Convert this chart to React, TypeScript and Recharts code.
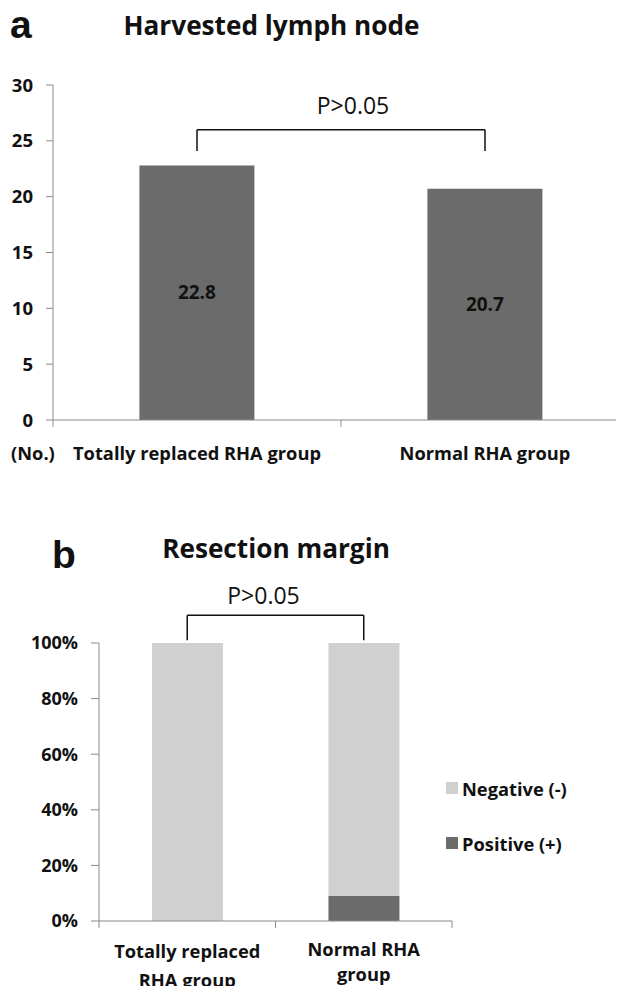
import React from "react";
import { BarChart, Bar, XAxis, YAxis, LabelList, ReferenceLine, Legend } from "recharts";

// ---------- Data: chart a ----------
const groupsA = ["Totally replaced RHA group", "Normal RHA group"];
const lymphNodes = [22.8, 20.7];
const yTicksA = [0, 5, 10, 15, 20, 25, 30];
const unitLabelA = "(No.)";
const titleA = "Harvested lymph node";

// ---------- Data: chart b ----------
const groupsB = ["Totally replaced RHA group", "Normal RHA group"];
const groupLinesB = [
  ["Totally replaced", "RHA group"],
  ["Normal RHA", "group"],
];
const negativePct = [100, 91];
const positivePct = [0, 9];
const yTicksB = [0, 20, 40, 60, 80, 100];
const seriesNamesB = ["Negative (-)", "Positive (+)"];
const titleB = "Resection margin";

const pLabel = "P>0.05";

// ---------- Styling / layout ----------
const FONT = "'Open Sans', 'Noto Sans', sans-serif";
const LETTER_FONT = "'Liberation Sans', Arial, sans-serif";
const DARK = "#6b6b6b";
const LIGHT = "#d0d0d0";
const AXIS = "#8a8a8a";
const TEXT = "#111";
const LABEL_FS = 18.3;
const TICK_FS_A = 18.5;
const TICK_FS_B = 18;

const dataA = groupsA.map((g, i) => ({ group: g, value: lymphNodes[i] }));
const dataB = groupsB.map((g, i) => ({
  group: g,
  positive: positivePct[i],
  negative: negativePct[i],
}));

const A_W = 640;
const A_H = 480;
const A_M = { top: 85, right: 11, left: 0, bottom: 10 };
const A_YW = 53;
const BAND_A = (A_W - A_M.right - A_M.left - A_YW) / groupsA.length;

const B_W = 624;
const B_H = 494;
const B_M = { top: 143, right: 172, left: 0, bottom: 0 };
const B_YW = 99;
const BAND_B = (B_W - B_M.right - B_M.left - B_YW) / groupsB.length;

const TickA = (props: any) => {
  const { x, y, payload, index } = props;
  const half = BAND_A / 2;
  return (
    <g>
      <line x1={x - half} y1={y} x2={x - half} y2={y + 7} stroke={AXIS} />
      {index === groupsA.length - 1 && (
        <line x1={x + half} y1={y} x2={x + half} y2={y + 7} stroke={AXIS} />
      )}
      {index === 0 && (
        <text x={x - half - 42} y={y + 40} fontSize={LABEL_FS} fontWeight={700} fill={TEXT} fontFamily={FONT}>
          {unitLabelA}
        </text>
      )}
      <text x={x} y={y + 40} textAnchor="middle" fontSize={LABEL_FS} fontWeight={700} fill={TEXT} fontFamily={FONT}>
        {payload.value}
      </text>
    </g>
  );
};

const LINE_BASELINES = [
  [37, 66],
  [35, 60],
];

const TickB = (props: any) => {
  const { x, y, index } = props;
  const half = BAND_B / 2;
  const lines = groupLinesB[index] || [];
  return (
    <g>
      <line x1={x - half} y1={y} x2={x - half} y2={y + 7} stroke={AXIS} />
      {index === groupsB.length - 1 && (
        <line x1={x + half} y1={y} x2={x + half} y2={y + 7} stroke={AXIS} />
      )}
      {lines.map((ln, i) => (
        <text
          key={i}
          x={x}
          y={y + LINE_BASELINES[index][i]}
          textAnchor="middle"
          fontSize={LABEL_FS}
          fontWeight={700}
          fill={TEXT}
          fontFamily={FONT}
        >
          {ln}
        </text>
      ))}
    </g>
  );
};

const legendColors = [LIGHT, DARK];

const LegendB = () => (
  <div style={{ fontFamily: FONT }}>
    {seriesNamesB.map((n, i) => (
      <div
        key={n}
        style={{
          display: "flex",
          alignItems: "center",
          height: 20,
          marginBottom: i === 0 ? 35 : 0,
        }}
      >
        <span
          style={{
            display: "inline-block",
            width: 12,
            height: 12,
            background: legendColors[i],
            marginRight: 4,
          }}
        />
        <span style={{ fontSize: LABEL_FS, fontWeight: 700, color: TEXT }}>{n}</span>
      </div>
    ))}
  </div>
);

const tickStyleA = { fontSize: TICK_FS_A, fontWeight: 700, fill: TEXT, fontFamily: FONT };
const tickStyleB = { fontSize: TICK_FS_B, fontWeight: 700, fill: TEXT, fontFamily: FONT };

const letterStyle: React.CSSProperties = {
  position: "absolute",
  fontSize: 39,
  fontWeight: 700,
  color: TEXT,
  lineHeight: "39px",
  fontFamily: LETTER_FONT,
};

export default function App() {
  return (
    <div
      style={{
        margin: -8,
        width: 624,
        height: 994,
        position: "relative",
        overflow: "hidden",
        background: "#fff",
        fontFamily: FONT,
      }}
    >
      {/* Panel letters and titles */}
      <div style={{ ...letterStyle, left: 10, top: 5 }}>a</div>
      <div style={{ position: "absolute", left: 0, width: 543, textAlign: "center", top: 8, fontSize: 26.2, fontWeight: 700, color: TEXT, lineHeight: "34px" }}>
        {titleA}
      </div>

      <div style={{ position: "absolute", left: 0, top: 0 }}>
        <BarChart width={A_W} height={A_H} data={dataA} margin={A_M} barCategoryGap="30%">
          <YAxis
            width={A_YW}
            domain={[0, 30]}
            ticks={yTicksA}
            tickSize={7}
            tickMargin={13}
            stroke={AXIS}
            tick={tickStyleA}
            interval={0}
          />
          <XAxis
            dataKey="group"
            height={50}
            tickSize={0}
            tickMargin={0}
            stroke={AXIS}
            tick={<TickA />}
            interval={0}
          />
          <Bar dataKey="value" fill={DARK} isAnimationActive={false}>
            <LabelList dataKey="value" position="center" fill={TEXT} fontSize={19} fontWeight={700} fontFamily={FONT} />
          </Bar>
          <ReferenceLine
            segment={[{ x: groupsA[0], y: 26 }, { x: groupsA[1], y: 26 }]}
            stroke="#111"
            strokeWidth={1.5}
            ifOverflow="visible"
            label={{ value: pLabel, position: "top", offset: 16, dx: 12, fontSize: 23, fill: TEXT, fontFamily: FONT }}
          />
          <ReferenceLine segment={[{ x: groupsA[0], y: 26 }, { x: groupsA[0], y: 24.1 }]} stroke="#111" strokeWidth={1.5} ifOverflow="visible" />
          <ReferenceLine segment={[{ x: groupsA[1], y: 26 }, { x: groupsA[1], y: 24.1 }]} stroke="#111" strokeWidth={1.5} ifOverflow="visible" />
        </BarChart>
      </div>

      <div style={{ ...letterStyle, left: 52, top: 535 }}>b</div>
      <div style={{ position: "absolute", left: 0, width: 552, textAlign: "center", top: 531, fontSize: 26.2, fontWeight: 700, color: TEXT, lineHeight: "34px" }}>
        {titleB}
      </div>

      <div style={{ position: "absolute", left: 0, top: 500 }}>
        <BarChart width={B_W} height={B_H} data={dataB} margin={B_M} barCategoryGap="30%">
          <YAxis
            width={B_YW}
            domain={[0, 100]}
            ticks={yTicksB}
            tickSize={8}
            tickMargin={13}
            stroke={AXIS}
            tick={tickStyleB}
            tickFormatter={(v: number) => `${v}%`}
            interval={0}
          />
          <XAxis
            dataKey="group"
            height={73}
            tickSize={0}
            tickMargin={0}
            stroke={AXIS}
            tick={<TickB />}
            interval={0}
          />
          <Bar dataKey="positive" stackId="s" name={seriesNamesB[1]} fill={DARK} isAnimationActive={false} />
          <Bar dataKey="negative" stackId="s" name={seriesNamesB[0]} fill={LIGHT} isAnimationActive={false} />
          <ReferenceLine
            segment={[{ x: groupsB[0], y: 110 }, { x: groupsB[1], y: 110 }]}
            stroke="#111"
            strokeWidth={1.5}
            ifOverflow="visible"
            label={{ value: pLabel, position: "top", offset: 11, dx: -12, fontSize: 23, fill: TEXT, fontFamily: FONT }}
          />
          <ReferenceLine segment={[{ x: groupsB[0], y: 110 }, { x: groupsB[0], y: 101 }]} stroke="#111" strokeWidth={1.5} ifOverflow="visible" />
          <ReferenceLine segment={[{ x: groupsB[1], y: 110 }, { x: groupsB[1], y: 101 }]} stroke="#111" strokeWidth={1.5} ifOverflow="visible" />
          <Legend
            layout="vertical"
            align="center"
            verticalAlign="middle"
            wrapperStyle={{ left: 446, top: 278, width: 178 }}
            content={() => <LegendB />}
          />
        </BarChart>
      </div>
    </div>
  );
}
